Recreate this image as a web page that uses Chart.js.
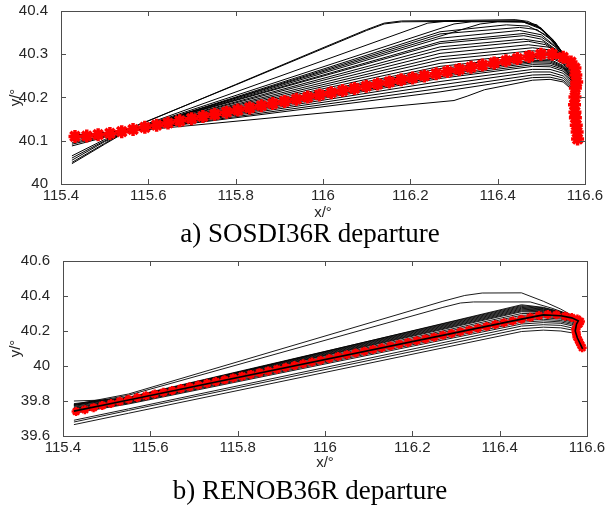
<!DOCTYPE html>
<html>
<head>
<meta charset="utf-8">
<script src="https://cdn.jsdelivr.net/npm/chart.js@4.4.1/dist/chart.umd.min.js"></script>
<style>
  body { margin: 0; background: #fff; width: 605px; height: 505px; position: relative; overflow: hidden; }
  canvas { position: absolute; left: 0; }
  #sosdi { top: 0; }
  #renob { top: 250px; }
  .caption { position: absolute; left: 0; width: 620px; text-align: center; font-family: "Liberation Serif", "Times New Roman", serif; font-size: 27px; line-height: 30px; color: #000; }
</style>
</head>
<body>
<canvas id="sosdi" width="605" height="222"></canvas>
<div class="caption" style="top:218px">a) SOSDI36R departure</div>
<canvas id="renob" width="605" height="222"></canvas>
<div class="caption" style="top:475px">b) RENOB36R departure</div>
<script>
// Axis ticks
const xTicks = [115.4, 115.6, 115.8, 116, 116.2, 116.4, 116.6];
const sosdiYTicks = [40, 40.1, 40.2, 40.3, 40.4];
const renobYTicks = [39.6, 39.8, 40, 40.2, 40.4, 40.6];

// a) SOSDI36R - nominal route (red stars)
const sosdiRedX = [115.432, 115.459, 115.485, 115.512, 115.539, 115.565, 115.592, 115.619, 115.645, 115.672,
  115.699, 115.725, 115.752, 115.779, 115.805, 115.832, 115.859, 115.885, 115.912, 115.939,
  115.965, 115.992, 116.019, 116.045, 116.072, 116.099, 116.125, 116.152, 116.179, 116.205,
  116.232, 116.259, 116.285, 116.312, 116.339, 116.365, 116.392, 116.419, 116.445, 116.472,
  116.499, 116.525, 116.550, 116.568, 116.577, 116.579, 116.581, 116.578, 116.577, 116.576,
  116.577, 116.578, 116.580, 116.582, 116.583];
const sosdiRedY = [40.110, 40.111, 40.114, 40.117, 40.121, 40.126, 40.131, 40.136, 40.141, 40.146,
  40.151, 40.156, 40.161, 40.166, 40.171, 40.176, 40.181, 40.186, 40.191, 40.196,
  40.201, 40.206, 40.211, 40.216, 40.221, 40.226, 40.231, 40.236, 40.241, 40.245,
  40.250, 40.255, 40.260, 40.265, 40.270, 40.275, 40.280, 40.285, 40.290, 40.295,
  40.300, 40.300, 40.293, 40.282, 40.268, 40.252, 40.236, 40.222, 40.201, 40.183,
  40.166, 40.153, 40.136, 40.120, 40.104];

// a) SOSDI36R - flown tracks (black), each ends on the common final leg
const sosdiTail = [[116.577, 40.20], [116.58, 40.095]];
const sosdiTracks = [
  [[115.425, 40.047], [115.5, 40.092], [115.57, 40.133], [115.8, 40.23], [116.0, 40.315], [116.1, 40.357], [116.14, 40.372], [116.18, 40.377], [116.3, 40.378], [116.44, 40.38], [116.47, 40.376], [116.5, 40.36], [116.53, 40.33], [116.555, 40.295], [116.57, 40.26]],
  [[115.425, 40.05], [115.5, 40.094], [115.57, 40.134], [115.8, 40.229], [116.0, 40.313], [116.1, 40.355], [116.14, 40.37], [116.18, 40.375], [116.3, 40.376], [116.45, 40.377], [116.49, 40.368], [116.52, 40.34], [116.55, 40.3], [116.568, 40.262]],
  [[115.425, 40.055], [115.5, 40.098], [115.58, 40.133], [116.24, 40.372], [116.28, 40.376], [116.45, 40.377], [116.49, 40.365], [116.525, 40.335], [116.555, 40.295], [116.57, 40.26]],
  [[115.425, 40.06], [115.5, 40.1], [115.58, 40.132], [116.3, 40.37], [116.34, 40.375], [116.46, 40.376], [116.5, 40.36], [116.53, 40.33], [116.555, 40.292], [116.57, 40.258]],
  [[115.425, 40.065], [115.5, 40.103], [115.58, 40.131], [116.36, 40.37], [116.4, 40.375], [116.46, 40.374], [116.5, 40.358], [116.53, 40.328], [116.556, 40.29], [116.57, 40.256]],
  [[115.425, 40.088], [115.5, 40.108], [115.58, 40.13], [116.268, 40.352], [116.42, 40.368], [116.47, 40.365], [116.51, 40.345], [116.54, 40.315], [116.56, 40.285], [116.572, 40.255]],
  [[115.425, 40.092], [115.5, 40.11], [115.58, 40.13], [116.268, 40.347], [116.45, 40.362], [116.49, 40.357], [116.52, 40.335], [116.55, 40.3], [116.57, 40.258]],
  [[115.425, 40.095], [115.5, 40.112], [115.58, 40.13], [116.268, 40.337], [116.45, 40.355], [116.5, 40.345], [116.53, 40.32], [116.555, 40.29], [116.57, 40.256]],
  [[115.425, 40.1], [115.58, 40.131], [116.268, 40.329], [116.46, 40.348], [116.5, 40.34], [116.535, 40.315], [116.558, 40.285], [116.571, 40.255]],
  [[115.425, 40.104], [115.58, 40.131], [116.268, 40.325], [116.46, 40.343], [116.5, 40.335], [116.535, 40.31], [116.558, 40.282], [116.571, 40.254]],
  [[115.425, 40.106], [115.58, 40.13], [116.268, 40.317], [116.46, 40.335], [116.505, 40.328], [116.54, 40.305], [116.56, 40.28], [116.572, 40.252]],
  [[115.425, 40.107], [115.58, 40.13], [116.268, 40.31], [116.47, 40.33], [116.51, 40.322], [116.54, 40.3], [116.56, 40.278], [116.572, 40.25]],
  [[115.425, 40.108], [115.58, 40.129], [116.268, 40.302], [116.47, 40.322], [116.52, 40.316], [116.55, 40.295], [116.566, 40.27], [116.574, 40.245]],
  [[115.425, 40.109], [115.58, 40.129], [116.268, 40.294], [116.48, 40.315], [116.52, 40.31], [116.55, 40.29], [116.566, 40.266], [116.574, 40.24]],
  [[115.425, 40.109], [115.58, 40.128], [116.268, 40.287], [116.48, 40.308], [116.52, 40.304], [116.55, 40.285], [116.566, 40.262], [116.574, 40.238]],
  [[115.425, 40.11], [115.58, 40.128], [116.268, 40.279], [116.48, 40.3], [116.52, 40.297], [116.55, 40.28], [116.567, 40.258], [116.575, 40.235]],
  [[115.425, 40.111], [115.58, 40.127], [116.268, 40.272], [116.48, 40.295], [116.52, 40.293], [116.55, 40.278], [116.567, 40.255], [116.575, 40.232]],
  [[115.425, 40.11], [115.58, 40.127], [116.268, 40.267], [116.48, 40.29], [116.52, 40.288], [116.55, 40.274], [116.567, 40.253], [116.575, 40.23]],
  [[115.425, 40.11], [115.58, 40.128], [116.268, 40.262], [116.48, 40.286], [116.52, 40.285], [116.55, 40.272], [116.567, 40.25], [116.575, 40.228]],
  [[115.425, 40.11], [115.58, 40.128], [116.268, 40.257], [116.48, 40.283], [116.52, 40.282], [116.55, 40.27], [116.567, 40.25], [116.575, 40.227]],
  [[115.425, 40.111], [115.58, 40.127], [116.268, 40.252], [116.48, 40.28], [116.52, 40.279], [116.55, 40.268], [116.567, 40.248], [116.575, 40.225]],
  [[115.425, 40.111], [115.58, 40.127], [116.268, 40.248], [116.48, 40.276], [116.52, 40.275], [116.55, 40.265], [116.567, 40.245], [116.575, 40.222]],
  [[115.425, 40.112], [115.58, 40.126], [116.268, 40.244], [116.48, 40.272], [116.52, 40.271], [116.55, 40.261], [116.568, 40.24], [116.576, 40.22]],
  [[115.425, 40.112], [115.58, 40.126], [116.268, 40.237], [116.48, 40.265], [116.52, 40.265], [116.55, 40.256], [116.568, 40.236], [116.576, 40.215]],
  [[115.425, 40.112], [115.58, 40.126], [116.268, 40.229], [116.48, 40.259], [116.52, 40.259], [116.55, 40.25], [116.568, 40.232], [116.576, 40.212]],
  [[115.425, 40.113], [115.58, 40.125], [116.268, 40.221], [116.48, 40.252], [116.52, 40.253], [116.55, 40.245], [116.568, 40.228], [116.576, 40.21]],
  [[115.425, 40.113], [115.58, 40.125], [116.268, 40.213], [116.48, 40.246], [116.52, 40.247], [116.55, 40.24], [116.568, 40.224], [116.576, 40.205]],
  [[115.425, 40.113], [115.58, 40.124], [116.3, 40.193], [116.33, 40.203], [116.37, 40.218], [116.48, 40.24], [116.52, 40.242], [116.55, 40.236], [116.568, 40.22], [116.576, 40.2]]
];

// b) RENOB36R - nominal route (red stars)
const renobRedX = [115.43, 115.45, 115.47, 115.49, 115.51, 115.53, 115.55, 115.57, 115.59, 115.61,
  115.63, 115.65, 115.67, 115.69, 115.71, 115.73, 115.75, 115.77, 115.79, 115.81,
  115.83, 115.85, 115.87, 115.89, 115.91, 115.93, 115.95, 115.97, 115.99, 116.01,
  116.03, 116.05, 116.07, 116.09, 116.11, 116.13, 116.15, 116.17, 116.19, 116.21,
  116.23, 116.25, 116.27, 116.29, 116.31, 116.33, 116.35, 116.37, 116.39, 116.41,
  116.43, 116.45, 116.47, 116.49, 116.51, 116.53, 116.55, 116.565, 116.578, 116.585,
  116.582, 116.577, 116.574, 116.575, 116.576, 116.577, 116.58, 116.583, 116.586, 116.589];
const renobRedY = [39.740, 39.750, 39.762, 39.774, 39.786, 39.798, 39.810, 39.820, 39.830, 39.840,
  39.850, 39.860, 39.871, 39.881, 39.891, 39.901, 39.911, 39.921, 39.932, 39.942,
  39.952, 39.962, 39.972, 39.982, 39.993, 40.003, 40.013, 40.023, 40.033, 40.043,
  40.054, 40.064, 40.074, 40.084, 40.094, 40.104, 40.115, 40.125, 40.135, 40.145,
  40.155, 40.165, 40.176, 40.186, 40.196, 40.206, 40.216, 40.226, 40.237, 40.247,
  40.257, 40.267, 40.278, 40.288, 40.294, 40.293, 40.285, 40.277, 40.268, 40.255,
  40.240, 40.225, 40.210, 40.195, 40.180, 40.165, 40.150, 40.135, 40.120, 40.105];

// b) RENOB36R - mean flown track, drawn over the red stars
const renobMeanTrack = [[115.425, 39.742], [115.55, 39.806], [116.45, 40.268], [116.5, 40.292], [116.54, 40.287], [116.565, 40.275], [116.58, 40.258], [116.576, 40.24], [116.573, 40.2], [116.578, 40.16], [116.59, 40.098]];

// b) RENOB36R - flown tracks (black)
const renobTail = [[116.575, 40.18], [116.588, 40.098]];
const renobTracks = [
  [[115.425, 39.78], [115.55, 39.84], [116.27, 40.37], [116.32, 40.403], [116.36, 40.417], [116.45, 40.418], [116.5, 40.37], [116.54, 40.325], [116.565, 40.29], [116.58, 40.262]],
  [[115.425, 39.775], [115.55, 39.833], [116.27, 40.335], [116.31, 40.36], [116.34, 40.366], [116.47, 40.366], [116.52, 40.33], [116.565, 40.29], [116.58, 40.262]],
  [[115.425, 39.8], [115.5, 39.806], [115.55, 39.815], [116.45, 40.35], [116.5, 40.335], [116.54, 40.31], [116.565, 40.285], [116.58, 40.262]],
  [[115.425, 39.785], [115.55, 39.822], [116.45, 40.345], [116.5, 40.332], [116.54, 40.308], [116.565, 40.284], [116.58, 40.261]],
  [[115.425, 39.78], [115.55, 39.82], [116.45, 40.34], [116.5, 40.328], [116.54, 40.305], [116.565, 40.282], [116.58, 40.26]],
  [[115.425, 39.775], [115.55, 39.818], [116.45, 40.335], [116.5, 40.325], [116.54, 40.303], [116.565, 40.28], [116.58, 40.26]],
  [[115.425, 39.77], [115.55, 39.816], [116.45, 40.33], [116.5, 40.321], [116.54, 40.3], [116.565, 40.278], [116.579, 40.258]],
  [[115.425, 39.765], [115.55, 39.813], [116.45, 40.325], [116.5, 40.318], [116.54, 40.298], [116.565, 40.276], [116.579, 40.257]],
  [[115.425, 39.76], [115.55, 39.81], [116.45, 40.32], [116.5, 40.314], [116.54, 40.295], [116.565, 40.274], [116.579, 40.256]],
  [[115.425, 39.757], [115.55, 39.808], [116.45, 40.315], [116.5, 40.31], [116.54, 40.292], [116.565, 40.272], [116.578, 40.255]],
  [[115.425, 39.752], [115.55, 39.806], [116.45, 40.31], [116.5, 40.306], [116.54, 40.29], [116.565, 40.27], [116.578, 40.254]],
  [[115.425, 39.748], [115.55, 39.803], [116.45, 40.3], [116.5, 40.3], [116.54, 40.285], [116.565, 40.268], [116.578, 40.252]],
  [[115.425, 39.745], [115.55, 39.8], [116.45, 40.29], [116.5, 40.292], [116.54, 40.28], [116.565, 40.264], [116.578, 40.25]],
  [[115.425, 39.742], [115.55, 39.797], [116.45, 40.28], [116.5, 40.284], [116.54, 40.274], [116.565, 40.258], [116.578, 40.245]],
  [[115.425, 39.74], [115.55, 39.794], [116.45, 40.27], [116.5, 40.276], [116.54, 40.268], [116.565, 40.252], [116.577, 40.24]],
  [[115.425, 39.737], [115.55, 39.79], [116.45, 40.26], [116.5, 40.267], [116.54, 40.26], [116.565, 40.245], [116.577, 40.235]],
  [[115.425, 39.735], [115.55, 39.787], [116.45, 40.25], [116.5, 40.258], [116.54, 40.252], [116.565, 40.238], [116.577, 40.23]],
  [[115.425, 39.73], [115.55, 39.783], [116.45, 40.24], [116.5, 40.248], [116.54, 40.244], [116.565, 40.23], [116.576, 40.222]],
  [[115.425, 39.69], [115.55, 39.755], [116.45, 40.228], [116.5, 40.236], [116.54, 40.232], [116.565, 40.218], [116.576, 40.21]],
  [[115.425, 39.68], [115.55, 39.746], [116.45, 40.213], [116.5, 40.222], [116.54, 40.218], [116.565, 40.206], [116.576, 40.2]],
  [[115.425, 39.665], [115.55, 39.73], [116.45, 40.197], [116.5, 40.205], [116.54, 40.2], [116.565, 40.19], [116.576, 40.185]]
];

const axisColor = '#4d4d4d';
const textColor = '#262626';

Chart.defaults.font.family = '"Liberation Sans", Arial, sans-serif';
Chart.defaults.font.size = 15;
Chart.defaults.color = textColor;

// box round the plot with inward ticks, like the original figure
const boxTicks = {
  id: 'boxTicks',
  afterDraw(chart) {
    const { ctx, chartArea: a } = chart;
    const sx = chart.scales.x;
    const sy = chart.scales.y;
    ctx.save();
    ctx.strokeStyle = axisColor;
    ctx.lineWidth = 1;
    ctx.beginPath();
    sx.ticks.forEach(t => {
      const px = Math.round(sx.getPixelForValue(t.value)) + 0.5;
      ctx.moveTo(px, a.bottom); ctx.lineTo(px, a.bottom - 5);
      ctx.moveTo(px, a.top); ctx.lineTo(px, a.top + 5);
    });
    sy.ticks.forEach(t => {
      const py = Math.round(sy.getPixelForValue(t.value)) + 0.5;
      ctx.moveTo(a.left, py); ctx.lineTo(a.left + 5, py);
      ctx.moveTo(a.right, py); ctx.lineTo(a.right - 5, py);
    });
    ctx.stroke();
    ctx.strokeRect(Math.round(a.left) + 0.5, Math.round(a.top) + 0.5,
      Math.round(a.right - a.left), Math.round(a.bottom - a.top));
    ctx.restore();
  }
};

function toPoints(track, tail) {
  return track.concat(tail).map(p => ({ x: p[0], y: p[1] }));
}

function blackLine(points, width) {
  return { data: points, showLine: true, borderColor: '#000', borderWidth: width, pointRadius: 0 };
}

function renderDeparture(canvasId, opts) {
  const trackSets = opts.tracks.map(t => blackLine(toPoints(t, opts.tail), opts.lineWidth));
  const red = {
    data: opts.redX.map((x, i) => ({ x: x, y: opts.redY[i] })),
    showLine: true,
    borderColor: '#ff0000',
    borderWidth: 2,
    pointStyle: 'star',
    pointRadius: opts.markerRadius,
    pointBorderWidth: opts.markerWidth,
    pointBorderColor: '#ff0000',
    pointBackgroundColor: '#ff0000'
  };
  // first dataset is drawn on top
  let datasets = [red].concat(trackSets);
  if (opts.meanTrack) {
    datasets = [blackLine(toPoints(opts.meanTrack, []), 1.6)].concat(datasets);
  }

  new Chart(document.getElementById(canvasId), {
    type: 'scatter',
    data: { datasets: datasets },
    plugins: [boxTicks],
    options: {
      responsive: false,
      animation: false,
      events: [],
      layout: { padding: { top: 11, right: opts.rightPad, left: 0, bottom: 0 } },
      plugins: { legend: { display: false }, tooltip: { enabled: false } },
      scales: {
        x: {
          type: 'linear',
          min: 115.4,
          max: 116.6,
          grid: { display: false, drawTicks: false },
          border: { display: false },
          afterBuildTicks: s => { s.ticks = xTicks.map(v => ({ value: v })); },
          afterFit: s => { s.height = opts.xAxisHeight; s.paddingLeft = 0; s.paddingRight = 0; },
          ticks: { padding: 3, maxRotation: 0, callback: v => String(+v.toFixed(1)) },
          title: { display: true, text: 'x/°', padding: { top: 0, bottom: 0 } }
        },
        y: {
          type: 'linear',
          min: opts.yMin,
          max: opts.yMax,
          grid: { display: false, drawTicks: false },
          border: { display: false },
          afterBuildTicks: s => { s.ticks = opts.yTicks.map(v => ({ value: v })); },
          afterFit: s => { s.width = opts.yAxisWidth; s.paddingTop = 0; s.paddingBottom = 0; },
          ticks: { padding: 13, callback: v => String(+v.toFixed(1)) },
          title: { display: true, text: 'y/°', padding: { top: 7, bottom: 0 } }
        }
      }
    }
  });
}

renderDeparture('sosdi', {
  tracks: sosdiTracks, tail: sosdiTail,
  redX: sosdiRedX, redY: sosdiRedY,
  yTicks: sosdiYTicks, yMin: 40, yMax: 40.4,
  yAxisWidth: 61, rightPad: 20, xAxisHeight: 38,
  lineWidth: 1, markerRadius: 6.5, markerWidth: 3.5
});

renderDeparture('renob', {
  tracks: renobTracks, tail: renobTail, meanTrack: renobMeanTrack,
  redX: renobRedX, redY: renobRedY,
  yTicks: renobYTicks, yMin: 39.6, yMax: 40.6,
  yAxisWidth: 63, rightPad: 18, xAxisHeight: 36,
  lineWidth: 0.9, markerRadius: 4.5, markerWidth: 2.5
});
</script>
</body>
</html>
